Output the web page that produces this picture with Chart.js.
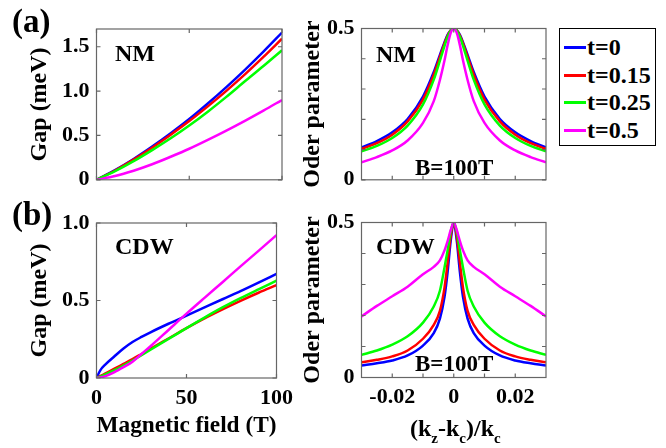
<!DOCTYPE html>
<html lang="en">
<head>
<meta charset="UTF-8" />
<title>Gap and order parameter</title>
<script src="https://cdn.jsdelivr.net/npm/chart.js"></script>
<style>
  body {
    margin: 0;
    width: 666px;
    height: 448px;
    position: relative;
    overflow: hidden;
    background: #fff;
    color: #000;
    font-family: 'Liberation Serif', 'Times New Roman', serif;
    font-weight: bold;
  }
  canvas { position: absolute; }
  .lbl { position: absolute; line-height: 1; white-space: nowrap; }
  #legend {
    position: absolute;
    left: 559px; top: 28px;
    width: 97px; height: 118px;
    border: 1px solid #000;
    box-sizing: border-box;
    background: #fff;
  }
  .row { position: absolute; left: 0; height: 24px; width: 95px; }
  .row .ln { position: absolute; left: 4px; top: 11px; width: 22px; height: 3px; }
  .row .tx { position: absolute; left: 27px; top: 0; font-size: 24px; line-height: 1; }
  .sub { font-size: 15px; position: relative; top: 7px; }
</style>
</head>
<body>

<canvas id="nmGap" width="300" height="200" style="left:0;top:0"></canvas>
<canvas id="nmOrder" width="270" height="200" style="left:290px;top:0"></canvas>
<canvas id="cdwGap" width="300" height="253" style="left:0;top:195px"></canvas>
<canvas id="cdwOrder" width="270" height="253" style="left:290px;top:195px"></canvas>

<div class="lbl" style="left:12px;top:5px;font-size:33px">(a)</div>
<div class="lbl" style="left:12px;top:198px;font-size:33px">(b)</div>
<div class="lbl" style="left:115px;top:41px;font-size:24px">NM</div>
<div class="lbl" style="left:376px;top:42px;font-size:24px">NM</div>
<div class="lbl" style="left:415px;top:156px;font-size:23px">B=100T</div>
<div class="lbl" style="left:115px;top:234px;font-size:24px">CDW</div>
<div class="lbl" style="left:376px;top:234px;font-size:24px">CDW</div>
<div class="lbl" style="left:415px;top:352px;font-size:23px">B=100T</div>
<div class="lbl" style="left:410px;top:416px;font-size:24px">(k<span class="sub">z</span>-k<span class="sub">c</span>)/k<span class="sub">c</span></div>

<div id="legend"></div>

<script>
  // series
  const seriesNames = ['t=0', 't=0.15', 't=0.25', 't=0.5'];
  const seriesColors = ['#0000ff', '#ff0000', '#00ff00', '#ff00ff'];

  // (a) left: gap vs field, NM
  const fieldNM = [0, 10, 20, 30, 40, 50, 60, 70, 80, 90, 100];
  const gapNM_t0   = [0, 0.110, 0.235, 0.375, 0.525, 0.685, 0.860, 1.045, 1.240, 1.445, 1.660];
  const gapNM_t015 = [0, 0.105, 0.228, 0.362, 0.508, 0.662, 0.828, 1.003, 1.188, 1.385, 1.590];
  const gapNM_t025 = [0, 0.097, 0.210, 0.335, 0.468, 0.612, 0.768, 0.935, 1.110, 1.282, 1.460];
  const gapNM_t05  = [0, 0.042, 0.102, 0.175, 0.260, 0.350, 0.450, 0.555, 0.665, 0.780, 0.900];

  // (b) left: gap vs field, CDW
  const fieldCDW = [0, 2, 5, 10, 15, 20, 25, 30, 40, 50, 60, 70, 80, 90, 100];
  const gapCDW_t0   = [0, 0.048, 0.088, 0.140, 0.190, 0.232, 0.265, 0.295, 0.350, 0.402, 0.455, 0.508, 0.560, 0.615, 0.672];
  const gapCDW_t015 = [0, 0.012, 0.030, 0.060, 0.091, 0.122, 0.155, 0.188, 0.255, 0.322, 0.385, 0.443, 0.498, 0.550, 0.599];
  const gapCDW_t025 = [0, 0.009, 0.024, 0.050, 0.080, 0.112, 0.147, 0.182, 0.252, 0.322, 0.390, 0.455, 0.515, 0.572, 0.628];
  const gapCDW_t05  = [0, 0.003, 0.012, 0.038, 0.070, 0.105, 0.155, 0.205, 0.310, 0.415, 0.517, 0.618, 0.720, 0.820, 0.922];

  // right panels: order parameter vs (kz-kc)/kc at B=100T
  const kShift = [-0.03, -0.025, -0.02, -0.015, -0.01, -0.0065, -0.0045, -0.003, -0.002, -0.001, 0,
                  0.001, 0.002, 0.003, 0.0045, 0.0065, 0.01, 0.015, 0.02, 0.025, 0.03];
  const ordNM_t0   = [0.107, 0.128, 0.157, 0.201, 0.275, 0.356, 0.413, 0.455, 0.479, 0.494, 0.5, 0.494, 0.479, 0.455, 0.413, 0.356, 0.275, 0.201, 0.157, 0.128, 0.107];
  const ordNM_t015 = [0.102, 0.121, 0.149, 0.193, 0.265, 0.347, 0.406, 0.451, 0.476, 0.494, 0.5, 0.494, 0.476, 0.451, 0.406, 0.347, 0.265, 0.193, 0.149, 0.121, 0.102];
  const ordNM_t025 = [0.094, 0.112, 0.138, 0.179, 0.249, 0.331, 0.394, 0.443, 0.472, 0.493, 0.5, 0.493, 0.472, 0.443, 0.394, 0.331, 0.249, 0.179, 0.138, 0.112, 0.094];
  const ordNM_t05  = [0.058, 0.075, 0.097, 0.130, 0.188, 0.260, 0.330, 0.395, 0.445, 0.485, 0.5, 0.485, 0.445, 0.395, 0.330, 0.260, 0.188, 0.130, 0.097, 0.075, 0.058];

  const ordCDW_t0   = [0.039, 0.046, 0.055, 0.071, 0.103, 0.143, 0.190, 0.260, 0.340, 0.440, 0.5, 0.440, 0.340, 0.260, 0.190, 0.143, 0.103, 0.071, 0.055, 0.046, 0.039];
  const ordCDW_t015 = [0.049, 0.057, 0.068, 0.087, 0.125, 0.170, 0.215, 0.290, 0.370, 0.455, 0.5, 0.455, 0.370, 0.290, 0.215, 0.170, 0.125, 0.087, 0.068, 0.057, 0.049];
  const ordCDW_t025 = [0.073, 0.087, 0.106, 0.133, 0.177, 0.229, 0.280, 0.355, 0.410, 0.470, 0.5, 0.470, 0.410, 0.355, 0.280, 0.229, 0.177, 0.133, 0.106, 0.087, 0.073];
  const ordCDW_t05  = [0.197, 0.231, 0.262, 0.293, 0.333, 0.357, 0.378, 0.410, 0.440, 0.475, 0.5, 0.475, 0.440, 0.410, 0.378, 0.357, 0.333, 0.293, 0.262, 0.231, 0.197];

  // ticks
  const fieldTicks = [0, 50, 100];
  const fieldTickLabels = ['0', '50', '100'];
  const kTicks = [-0.02, -0.01, 0, 0.01, 0.02];
  const kTickLabels = ['-0.02', '', '0', '', '0.02'];
  const gapNMTicks = [0, 0.5, 1.0, 1.5];
  const gapNMTickLabels = ['0', '0.5', '1.0', '1.5'];
  const gapCDWTicks = [0, 0.5, 1.0];
  const gapCDWTickLabels = ['0', '0.5', '1.0'];
  const ordTicks = [0, 0.1, 0.2, 0.3, 0.4, 0.5];
  const ordTickLabels = ['0', '', '', '', '', '0.5'];

  const tickFont = { family: 'Liberation Serif', weight: 'bold', size: 22 };
  const titleFont = { family: 'Liberation Serif', weight: 'bold', size: 24 };

  // box and inward tick marks, MATLAB style
  const frameTicks = {
    id: 'frameTicks',
    afterDraw(chart) {
      const { ctx, chartArea: a, scales: { x, y } } = chart;
      const len = 4;
      ctx.save();
      ctx.strokeStyle = '#666';
      ctx.lineWidth = 1.2;
      ctx.strokeRect(a.left, a.top, a.right - a.left, a.bottom - a.top);
      ctx.beginPath();
      x.ticks.forEach(t => {
        const px = x.getPixelForValue(t.value);
        ctx.moveTo(px, a.bottom); ctx.lineTo(px, a.bottom - len);
        ctx.moveTo(px, a.top); ctx.lineTo(px, a.top + len);
      });
      y.ticks.forEach(t => {
        const py = y.getPixelForValue(t.value);
        ctx.moveTo(a.left, py); ctx.lineTo(a.left + len, py);
        ctx.moveTo(a.right, py); ctx.lineTo(a.right - len, py);
      });
      ctx.stroke();
      ctx.restore();
    }
  };

  function toPoints(xs, ys) {
    return xs.map((v, i) => ({ x: v, y: ys[i] }));
  }

  function makeAxis(min, max, tickVals, tickLabels, size, title) {
    return {
      type: 'linear',
      min: min,
      max: max,
      afterBuildTicks: s => { s.ticks = tickVals.map(v => ({ value: v })); },
      afterFit: s => {
        if (s.isHorizontal()) s.height = size; else s.width = size;
      },
      grid: { display: false, drawTicks: false },
      border: { display: false },
      ticks: {
        autoSkip: false,
        maxRotation: 0,
        padding: 7,
        color: '#000',
        font: tickFont,
        callback: (v, i) => tickLabels[i]
      },
      title: {
        display: !!title,
        text: title || '',
        color: '#000',
        font: titleFont,
        padding: 0
      }
    };
  }

  function drawPanel(id, xs, ys, xAxis, yAxis, padding) {
    new Chart(document.getElementById(id), {
      type: 'line',
      data: {
        datasets: ys.map((arr, i) => ({
          label: seriesNames[i],
          data: toPoints(xs, arr),
          borderColor: seriesColors[i],
          borderWidth: 2.5,
          pointRadius: 0,
          fill: false,
          cubicInterpolationMode: 'monotone'
        })).reverse()
      },
      options: {
        responsive: false,
        animation: false,
        layout: { padding: padding },
        plugins: { legend: { display: false }, tooltip: { enabled: false } },
        scales: { x: xAxis, y: yAxis }
      },
      plugins: [frameTicks]
    });
  }

  drawPanel('nmGap', fieldNM, [gapNM_t0, gapNM_t015, gapNM_t025, gapNM_t05],
    makeAxis(0, 100, fieldTicks, ['', '', ''], 16.5, null),
    makeAxis(0, 1.7, gapNMTicks, gapNMTickLabels, 71, 'Gap (meV)'),
    { left: 25.5, top: 29, right: 18, bottom: 0 });

  drawPanel('nmOrder', kShift, [ordNM_t0, ordNM_t015, ordNM_t025, ordNM_t05],
    makeAxis(-0.03, 0.03, kTicks, ['', '', '', '', ''], 16.5, null),
    makeAxis(0, 0.5, ordTicks, ordTickLabels, 63, 'Oder parameter'),
    { left: 8.5, top: 28.5, right: 14, bottom: 0 });

  drawPanel('cdwGap', fieldCDW, [gapCDW_t0, gapCDW_t015, gapCDW_t025, gapCDW_t05],
    makeAxis(0, 100, fieldTicks, fieldTickLabels, 62.5, 'Magnetic field (T)'),
    makeAxis(0, 1.0, gapCDWTicks, gapCDWTickLabels, 71, 'Gap (meV)'),
    { left: 25.5, top: 28, right: 18, bottom: 7.5 });

  drawPanel('cdwOrder', kShift, [ordCDW_t0, ordCDW_t015, ordCDW_t025, ordCDW_t05],
    makeAxis(-0.03, 0.03, kTicks, kTickLabels, 70.5, null),
    makeAxis(0, 0.5, ordTicks, ordTickLabels, 63, 'Oder parameter'),
    { left: 8.5, top: 27.5, right: 14, bottom: 0 });

  // legend
  const legend = document.getElementById('legend');
  const rowTops = [6, 34, 61, 89];
  seriesNames.forEach((name, i) => {
    const row = document.createElement('div');
    row.className = 'row';
    row.style.top = rowTops[i] + 'px';
    row.innerHTML = '<div class="ln" style="background:' + seriesColors[i] + '"></div><div class="tx">' + name + '</div>';
    legend.appendChild(row);
  });
</script>

</body>
</html>
